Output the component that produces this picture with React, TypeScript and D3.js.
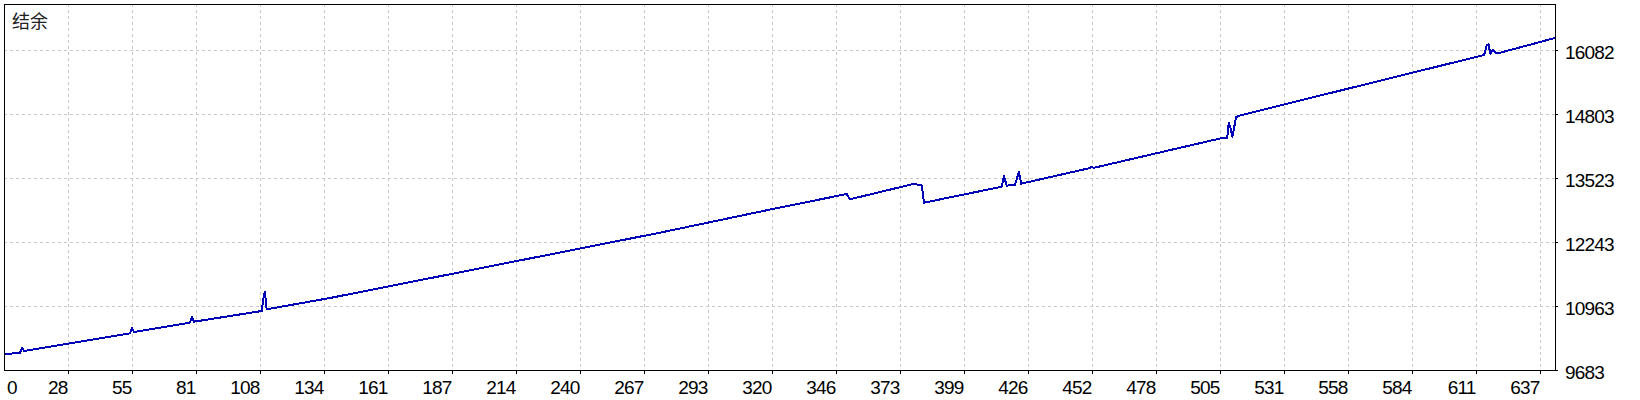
import React from "react";
import * as d3 from "d3";

// balance curve: trade number -> balance
const tradeIndex = [0, 6.6, 7.5, 8.3, 52.3, 53.1, 53.9, 77.1, 78.0, 78.8, 106.9, 107.5, 108.2, 108.9,
    135.2, 161.8, 188.5, 212.6, 238.9, 265.9, 272.0, 319.0, 349.5, 350.8, 377.1, 380.6, 381.5,
    413.8, 414.7, 415.8, 419.3, 420.9, 421.8, 450.4, 451.1, 451.8, 505.7, 507.3, 507.9, 508.7,
    509.4, 510.2, 510.9, 512.2, 527.1, 549.9, 584.4, 613.8, 614.9, 615.6, 616.4, 617.4, 618.4,
    620.4, 643.2];
const balance = [9995, 10029, 10129, 10063, 10417, 10529, 10443, 10629, 10749, 10649, 10863, 11097, 11249, 10897,
    11123, 11377, 11632, 11862, 12113, 12371, 12429, 12905, 13203, 13097, 13403, 13377, 13029,
    13349, 13563, 13369, 13389, 13649, 13409, 13723, 13749, 13725, 14329, 14329, 14629, 14517,
    14349, 14549, 14737, 14769, 14947, 15221, 15633, 15983, 16183, 16197, 16009, 16093, 16029,
    16029, 16323];

const xTickLabels = ["0", "28", "55", "81", "108", "134", "161", "187", "214", "240", "267", "293", "320",
    "346", "373", "399", "426", "452", "478", "505", "531", "558", "584", "611", "637"];
const yTickValues = [9683, 10963, 12243, 13523, 14803, 16082];
const title = "结余";

const W = 1640;
const H = 400;
const left = 4, top = 4, right = 1555, bottom = 370;

export default class App extends React.Component {
    private svgRef = React.createRef<SVGSVGElement>();

    public componentDidMount() {
        this.draw();
    }

    public render() {
        return <div style={{ position: "absolute", left: 0, top: 0, background: "#fff" }}>
            <svg ref={this.svgRef} width={W} height={H}></svg>
        </div>;
    }

    private draw = (): void => {
        const xScale = d3.scaleLinear()
            .domain([0, 643.2])
            .range([left, right]);
        const yScale = d3.scaleLinear()
            .domain([9683, 17003])
            .range([bottom, top]);
        const xStep = 637 / (xTickLabels.length - 1);

        const svg = d3.select(this.svgRef.current);
        svg.selectAll("*").remove();
        svg.append("rect").attr("width", W).attr("height", H).attr("fill", "#fff");

        // grid
        svg.selectAll("line.vgrid")
            .data(xTickLabels.slice(1))
            .enter()
            .append("line")
            .attr("class", "vgrid")
            .attr("x1", (d, i) => Math.round(xScale((i + 1) * xStep)) + 0.5)
            .attr("x2", (d, i) => Math.round(xScale((i + 1) * xStep)) + 0.5)
            .attr("y1", top)
            .attr("y2", bottom)
            .attr("stroke", "#c8c8c8")
            .attr("stroke-dasharray", "3,3");
        svg.selectAll("line.hgrid")
            .data(yTickValues.slice(1))
            .enter()
            .append("line")
            .attr("class", "hgrid")
            .attr("x1", left)
            .attr("x2", right)
            .attr("y1", d => Math.round(yScale(d)) + 0.5)
            .attr("y2", d => Math.round(yScale(d)) + 0.5)
            .attr("stroke", "#c8c8c8")
            .attr("stroke-dasharray", "3,3");

        // balance line
        const line = d3.line<number>()
            .x((d, i) => xScale(tradeIndex[i]))
            .y(d => yScale(d));
        svg.append("path")
            .datum(balance)
            .attr("d", line)
            .attr("fill", "none")
            .attr("stroke", "#0000b8")
            .attr("stroke-width", 2)
            .attr("stroke-linejoin", "round")
            .attr("shape-rendering", "crispEdges");

        // frame
        svg.append("rect")
            .attr("x", left + 0.5)
            .attr("y", top + 0.5)
            .attr("width", right - left)
            .attr("height", bottom - top)
            .attr("fill", "none")
            .attr("stroke", "#000");

        // tick marks
        svg.selectAll("line.xtick")
            .data(xTickLabels.slice(1))
            .enter()
            .append("line")
            .attr("x1", (d, i) => Math.round(xScale((i + 1) * xStep)) + 0.5)
            .attr("x2", (d, i) => Math.round(xScale((i + 1) * xStep)) + 0.5)
            .attr("y1", bottom)
            .attr("y2", bottom + 4)
            .attr("stroke", "#000");
        svg.selectAll("line.ytick")
            .data(yTickValues)
            .enter()
            .append("line")
            .attr("x1", right)
            .attr("x2", right + 3)
            .attr("y1", d => Math.round(yScale(d)) + 0.5)
            .attr("y2", d => Math.round(yScale(d)) + 0.5)
            .attr("stroke", "#000");

        // labels
        svg.selectAll("text.xlab")
            .data(xTickLabels)
            .enter()
            .append("text")
            .text(d => d)
            .attr("x", (d, i) => i === 0 ? left + 3 : xScale(i * xStep) - 0.5)
            .attr("y", 394)
            .attr("text-anchor", (d, i) => i === 0 ? "start" : "end")
            .attr("font-family", "Liberation Sans, Arial, sans-serif")
            .attr("font-size", "19px")
            .attr("letter-spacing", "-0.8px")
            .attr("fill", "#000");
        svg.selectAll("text.ylab")
            .data(yTickValues)
            .enter()
            .append("text")
            .text(d => d)
            .attr("x", right + 10)
            .attr("y", d => yScale(d) + 9)
            .attr("font-family", "Liberation Sans, Arial, sans-serif")
            .attr("font-size", "19px")
            .attr("letter-spacing", "-0.8px")
            .attr("fill", "#000");

        svg.append("text")
            .text(title)
            .attr("x", 12)
            .attr("y", 28)
            .attr("font-family", "Noto Sans CJK SC, sans-serif")
            .attr("font-size", "18px")
            .attr("fill", "#222");
    }
}
